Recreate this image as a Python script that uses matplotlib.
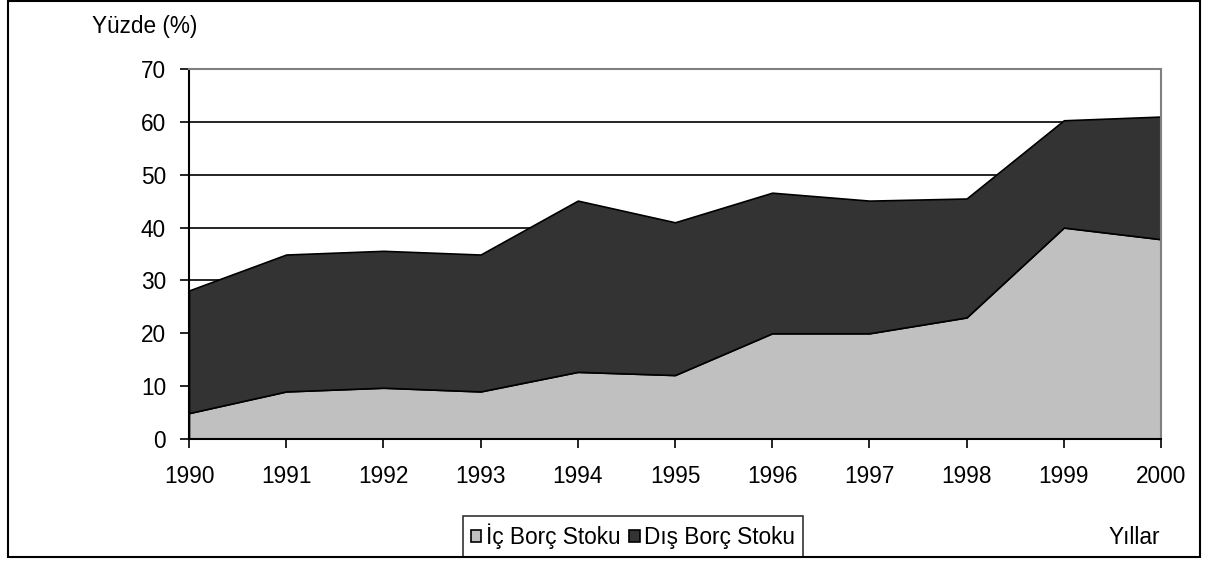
import matplotlib
matplotlib.use("Agg")
import matplotlib.pyplot as plt
from matplotlib.patches import Rectangle, Patch

plt.rcParams['font.family'] = ['Liberation Sans', 'DejaVu Sans']

years = [1990, 1991, 1992, 1993, 1994, 1995, 1996, 1997, 1998, 1999, 2000]
ic_borc = [4.9, 9.0, 9.7, 9.0, 12.7, 12.1, 20.0, 20.0, 23.0, 40.0, 37.8]
dis_borc = [23.2, 25.9, 25.9, 25.9, 32.4, 28.9, 26.6, 25.1, 22.5, 20.3, 23.2]
series_names = ["İç Borç Stoku", "Dış Borç Stoku"]
series_colors = ["#c0c0c0", "#333333"]
yticks = [0, 10, 20, 30, 40, 50, 60, 70]

FS = 16.3
W, H = 1208, 561
fig = plt.figure(figsize=(W / 100, H / 100), dpi=100)

# outer border
fig.patches.append(Rectangle((8 / W, 1 - 557 / H), (1200 - 8) / W, (557 - 1) / H,
                             transform=fig.transFigure, fill=False,
                             edgecolor="black", linewidth=1.5, zorder=10))

ax = fig.add_axes([189 / W, 1 - 439 / H, (1161 - 189) / W, (439 - 69) / H])

ax.stackplot(years, ic_borc, dis_borc, colors=series_colors,
             edgecolor="black", linewidth=1.2, zorder=3)

ax.set_xlim(years[0], years[-1])
ax.set_ylim(0, 70)
ax.set_xticks(years)
ax.set_xticklabels([str(y) for y in years])
ax.set_yticks(yticks)
for v in yticks[1:-1]:
    ax.axhline(v, color="black", linewidth=1.2, zorder=1)

ax.tick_params(axis="both", direction="out", length=6.5, width=1.2,
               labelsize=FS, colors="black")
ax.tick_params(axis="x", pad=12)
ax.tick_params(axis="y", pad=10)

ax.spines["left"].set_color("black")
ax.spines["bottom"].set_color("black")
ax.spines["left"].set_linewidth(1.5)
ax.spines["bottom"].set_linewidth(1.5)
ax.spines["top"].set_color("#808080")
ax.spines["right"].set_color("#808080")
ax.spines["top"].set_linewidth(1.5)
ax.spines["right"].set_linewidth(1.5)
for s in ax.spines.values():
    s.set_zorder(5)

fig.text(145 / W, 1 - 26 / H, "Yüzde (%)", ha="center", va="center", fontsize=FS)
fig.text(1134 / W, 1 - 537 / H, "Yıllar", ha="center", va="center", fontsize=FS)

handles = [Patch(facecolor=c, edgecolor="black", linewidth=1.2) for c in series_colors]
leg = fig.legend(handles, series_names, loc="lower center",
                 bbox_to_anchor=(633 / W, 1 - 557 / H), ncol=2, fontsize=FS,
                 frameon=True, fancybox=False, edgecolor="black",
                 handlelength=0.45, handleheight=0.45, handletextpad=0.2,
                 columnspacing=0.4, borderpad=0.35, borderaxespad=0)
leg.get_frame().set_linewidth(1.2)

fig.savefig("out.png", dpi=100, facecolor="white")
